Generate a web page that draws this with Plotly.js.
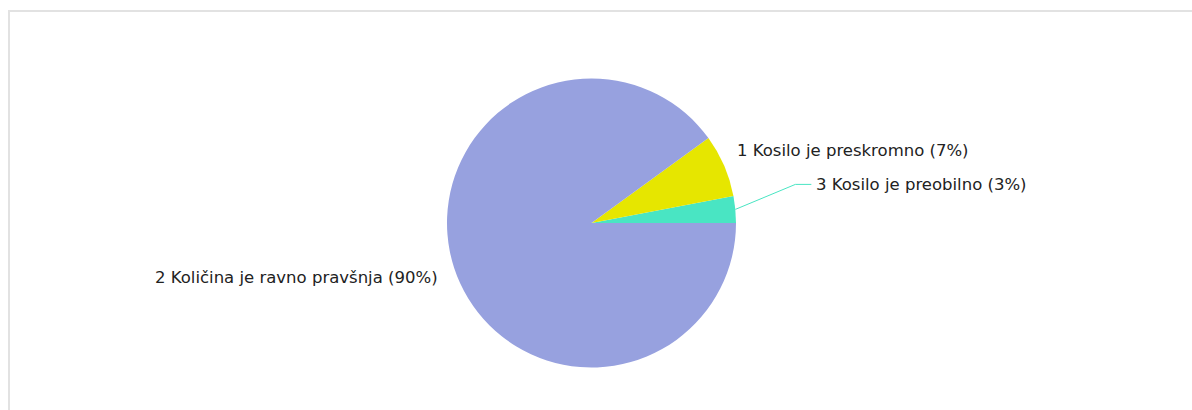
<!DOCTYPE html>
<html>
<head>
<meta charset="utf-8">
<script src="https://cdn.plot.ly/plotly-3.0.1.min.js"></script>
<style>
  html, body { margin: 0; padding: 0; background: #fff; }
  #wrap { position: relative; width: 1192px; height: 410px; overflow: hidden; }
  #chart { position: absolute; left: 0; top: 0; width: 1192px; height: 410px; }
  #frame { position: absolute; left: 8px; top: 10px; width: 1300px; height: 500px;
           border-left: 2px solid #e2e2e2; border-top: 2px solid #e2e2e2; pointer-events: none; }
</style>
</head>
<body>
<div id="wrap">
  <div id="chart"></div>
  <div id="frame"></div>
</div>
<script>
// ---- data ----
const categories = ['3 Kosilo je preobilno', '1 Kosilo je preskromno', '2 Količina je ravno pravšnja'];
const values = [3, 7, 90];
const colors = ['#49e5c3', '#e6e600', '#97a1df'];

// ---- layout constants (pixels) ----
const W = 1192, H = 410;
const cxPx = 591.5, cyPx = 223, rPx = 144.5;
const toPX = px => px / W;
const toPY = py => 1 - py / H;

const total = values.reduce((a, b) => a + b, 0);
const pctText = values.map(v => Math.round(v / total * 100) + '%');
const labelText = categories.map((c, i) => c + ' (' + pctText[i] + ')');

// mid angles (counterclockwise from 3 o'clock), derived from the data
let cum = 0;
const mids = values.map(v => {
  const start = cum; cum += v;
  return ((start + v / 2) / total) * 2 * Math.PI;
});
const edge = mids.map(a => [cxPx + rPx * Math.cos(a), cyPx - rPx * Math.sin(a)]);

// label style offsets per slice (pixels)
const labelStyle = [
  { dx: 79, dy: -25, anchor: 'left' },
  { dx: 11, dy: -15.5, anchor: 'left' },
  { dx: -14, dy: 10, anchor: 'right' }
];
const labelFont = { family: 'DejaVu Sans, Verdana, sans-serif', size: 16.5, color: '#222222' };

const annotations = labelText.map((t, i) => ({
  xref: 'paper', yref: 'paper',
  x: toPX(edge[i][0]), y: toPY(edge[i][1]),
  xshift: labelStyle[i].dx, yshift: -labelStyle[i].dy,
  xanchor: labelStyle[i].anchor, yanchor: 'middle',
  text: t, showarrow: false,
  font: labelFont
}));

// leader line for the small first slice
const e0 = edge[0];
const ly = e0[1] + labelStyle[0].dy;
const leaderPath = 'M ' + toPX(e0[0]) + ',' + toPY(e0[1]) +
  ' L ' + toPX(e0[0] + 60) + ',' + toPY(ly) +
  ' L ' + toPX(e0[0] + 76) + ',' + toPY(ly);

// Plotly's counterclockwise mode ends the first slice at `rotation`,
// so shift so the first slice starts at 3 o'clock.
const rotation = 90 - 360 * values[0] / total;

const trace = {
  type: 'pie',
  labels: categories,
  values: values,
  sort: false,
  direction: 'counterclockwise',
  rotation: rotation,
  marker: { colors: colors, line: { width: 0 } },
  textinfo: 'none',
  hoverinfo: 'none',
  showlegend: false,
  domain: {
    x: [toPX(cxPx - rPx), toPX(cxPx + rPx)],
    y: [toPY(cyPx + rPx), toPY(cyPx - rPx)]
  }
};

const layout = {
  width: W, height: H,
  margin: { l: 0, r: 0, t: 0, b: 0 },
  paper_bgcolor: '#ffffff',
  showlegend: false,
  annotations: annotations,
  shapes: [{
    type: 'path', xref: 'paper', yref: 'paper',
    path: leaderPath,
    line: { color: colors[0], width: 1 }
  }]
};

Plotly.newPlot('chart', [trace], layout, { displayModeBar: false, staticPlot: true });
</script>
</body>
</html>
